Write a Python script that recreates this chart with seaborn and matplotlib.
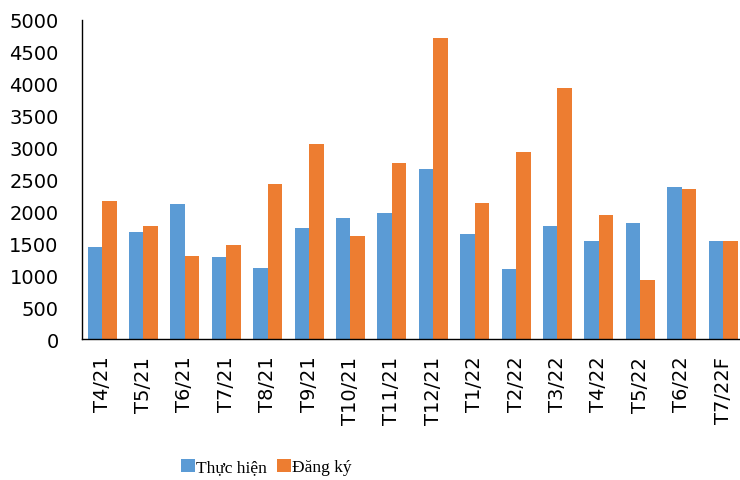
import pandas as pd
import seaborn as sns
import matplotlib.pyplot as plt

# Monthly values
months = ['T4/21', 'T5/21', 'T6/21', 'T7/21', 'T8/21', 'T9/21', 'T10/21', 'T11/21',
          'T12/21', 'T1/22', 'T2/22', 'T3/22', 'T4/22', 'T5/22', 'T6/22', 'T7/22F']
thuc_hien = [1435, 1680, 2113, 1288, 1106, 1732, 1894, 1977,
             2665, 1638, 1090, 1763, 1529, 1815, 2374, 1539]
dang_ky = [2155, 1768, 1304, 1476, 2426, 3052, 1617, 2749,
           4721, 2133, 2921, 3938, 1935, 923, 2342, 1539]
series_names = ['Thực hiện', 'Đăng ký']
colors = ['#5B9BD5', '#ED7D31']

df = pd.DataFrame({
    'month': months * 2,
    'value': thuc_hien + dang_ky,
    'series': [series_names[0]] * len(months) + [series_names[1]] * len(months),
})

sns.set_style('white')
plt.rcParams['font.family'] = ['DejaVu Sans']

fig = plt.figure(figsize=(7.4, 4.81), dpi=100)
ax = fig.add_axes([0.111, 0.293, 0.889, 0.664])

sns.barplot(data=df, x='month', y='value', hue='series', palette=colors,
            width=0.7, saturation=1, linewidth=0, ax=ax)

ax.set_ylim(0, 5000)
ax.set_yticks(range(0, 5001, 500))
ax.set_xlim(-0.48, 15.41)
ax.set_xlabel('')
ax.set_ylabel('')
ax.tick_params(axis='y', length=0, pad=17, labelsize=14, labelcolor='black')
ax.tick_params(axis='x', length=0, pad=12, labelsize=14, labelrotation=90,
               labelcolor='black')

for side in ['top', 'right']:
    ax.spines[side].set_visible(False)
for side in ['left', 'bottom']:
    ax.spines[side].set_color('black')
    ax.spines[side].set_linewidth(1)

handles, labels = ax.get_legend_handles_labels()
ax.get_legend().remove()
fig.legend(handles, labels, loc='center', bbox_to_anchor=(0.36, 0.027),
           ncol=2, frameon=False,
           prop={'family': 'Liberation Serif', 'size': 12.5},
           handlelength=0.8, handleheight=0.8, handletextpad=0.05,
           columnspacing=0.6, labelcolor='black')

plt.savefig('out.png', dpi=100)
